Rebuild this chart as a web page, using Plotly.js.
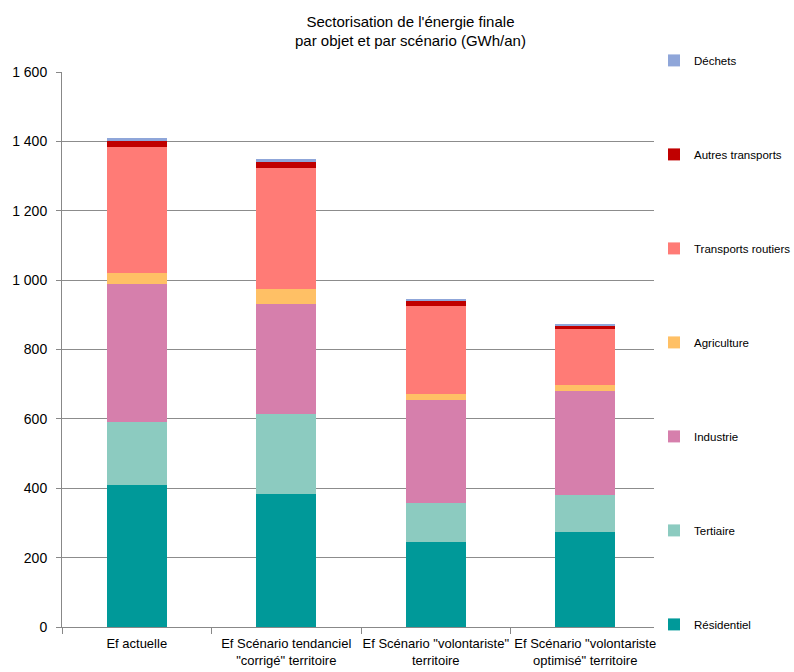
<!DOCTYPE html>
<html>
<head>
<meta charset="utf-8">
<script src="https://cdn.plot.ly/plotly-3.0.1.min.js"></script>
<style>body{margin:0;padding:0;background:#fff}#chart{width:794px;height:672px}</style>
</head>
<body>
<div id="chart"></div>
<script>
const categories = ["Ef actuelle", "Ef Scénario tendanciel<br>\"corrigé\" territoire", "Ef Scénario \"volontariste\"<br>territoire", "Ef Scénario \"volontariste<br>optimisé\" territoire"];
const residentiel = [408, 383, 245, 274];
const tertiaire = [183, 231, 112, 107];
const industrie = [397, 317, 296, 299];
const agriculture = [33, 42, 18, 18];
const transportsRoutiers = [364, 351, 255, 162];
const autresTransports = [15, 16, 13, 9];
const dechets = [9, 8, 8, 5];
const yTicks = [0, 200, 400, 600, 800, 1000, 1200, 1400, 1600];

const seriesNames = ["Résidentiel", "Tertiaire", "Industrie", "Agriculture", "Transports routiers", "Autres transports", "Déchets"];
const seriesValues = [residentiel, tertiaire, industrie, agriculture, transportsRoutiers, autresTransports, dechets];
const colors = ["#009999", "#8ccbc0", "#d67fac", "#ffc065", "#ff7b76", "#c00000", "#8fa6d9"];

const FONT = "'Liberation Sans', Arial, sans-serif";

const traces = seriesNames.map((n, i) => ({
  type: "bar",
  name: n,
  x: categories,
  y: seriesValues[i],
  marker: {color: colors[i], line: {width: 0}},
  legendgroup: "g" + i,
  legendrank: 100 - i,
  hoverinfo: "name+y"
}));

const layout = {
  width: 794, height: 672,
  margin: {l: 62, r: 134, t: 72, b: 45, autoexpand: false},
  paper_bgcolor: "#fff", plot_bgcolor: "#fff",
  barmode: "stack",
  bargap: 0.6,
  separators: ", ",
  font: {family: FONT, size: 12, color: "#000"},
  title: {
    text: "Sectorisation de l'énergie finale<br>par objet et par scénario (GWh/an)",
    font: {family: FONT, size: 15, color: "#000"},
    x: 0.517, xref: "container", xanchor: "center",
    y: 0.96, yref: "container", yanchor: "middle"
  },
  xaxis: {
    showline: true, linecolor: "#888", linewidth: 1,
    ticks: "outside", tickson: "boundaries", ticklen: 6, tickcolor: "#888",
    tickangle: 0,
    ticklabelstandoff: 4,
    tickfont: {family: FONT, size: 13, color: "#000"},
    showgrid: false
  },
  yaxis: {
    range: [0, 1600],
    tickvals: yTicks,
    tickformat: ",d",
    showline: true, linecolor: "#888", linewidth: 1,
    ticks: "outside", ticklen: 5, tickcolor: "#888",
    ticklabelstandoff: 6,
    showgrid: true, gridcolor: "#8c8c8c", gridwidth: 1,
    zeroline: false,
    tickfont: {family: FONT, size: 14, color: "#000"}
  },
  legend: {
    x: 0.99, xanchor: "left",
    y: 1.047, yanchor: "top",
    traceorder: "grouped",
    tracegroupgap: 75,
    maxheight: 672,
    font: {family: FONT, size: 11.5, color: "#000"},
    itemwidth: 30
  },
  showlegend: true
};

Plotly.newPlot("chart", traces, layout, {displayModeBar: false, staticPlot: true});
</script>
</body>
</html>
